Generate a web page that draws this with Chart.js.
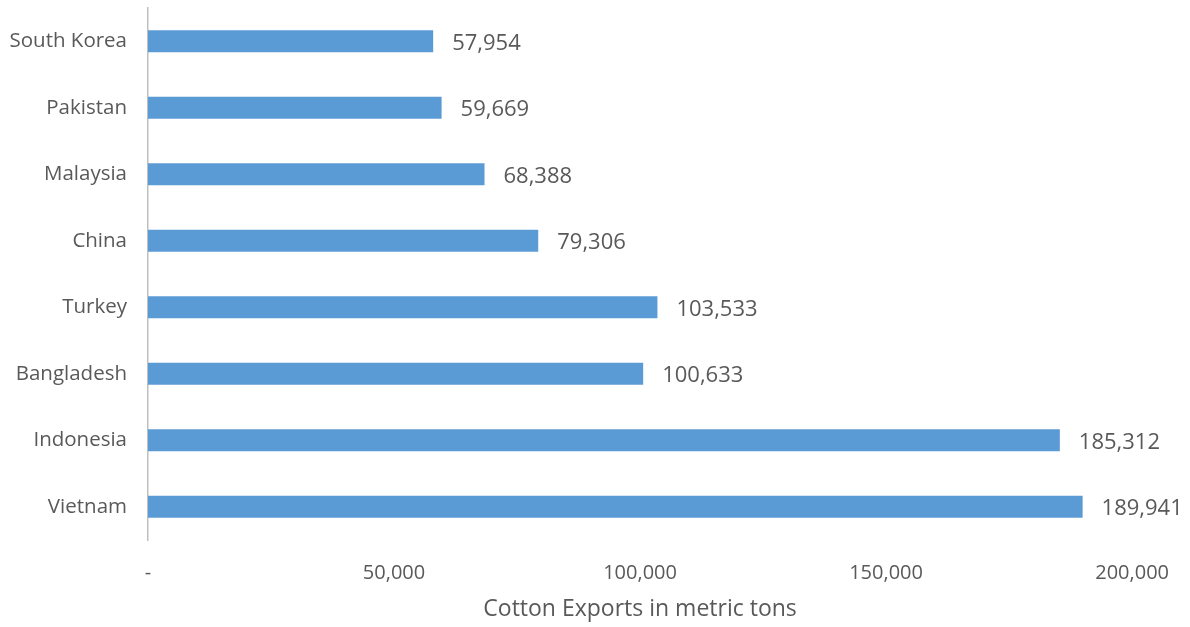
<!DOCTYPE html>
<html>
<head>
<meta charset="utf-8">
<script src="https://cdn.jsdelivr.net/npm/chart.js@4/dist/chart.umd.min.js"></script>
<style>
  body { margin: 0; background: #fff; }
  #wrap { width: 1190px; height: 627px; position: relative; }
</style>
</head>
<body>
<div id="wrap"><canvas id="exportChart"></canvas></div>
<script>
let countries = ["South Korea", "Pakistan", "Malaysia", "China", "Turkey", "Bangladesh", "Indonesia", "Vietnam"];
let exportTons = [57954, 59669, 68388, 79306, 103533, 100633, 185312, 189941];
let xTicks = [0, 50000, 100000, 150000, 200000];

let textColor = "#595959";
let fontFamily = "'Open Sans', Lato, sans-serif";

// labels at the end of each bar
const barValues = {
  id: "barValues",
  afterDatasetsDraw(chart) {
    let ctx = chart.ctx;
    let meta = chart.getDatasetMeta(0);
    ctx.save();
    ctx.font = "22px " + fontFamily;
    ctx.fillStyle = textColor;
    ctx.textAlign = "left";
    ctx.textBaseline = "middle";
    meta.data.forEach(function (bar, i) {
      ctx.fillText(exportTons[i].toLocaleString("en-US"), bar.x + 19, bar.y + 2);
    });
    ctx.restore();
  }
};

new Chart(document.getElementById("exportChart"), {
  type: "bar",
  data: {
    labels: countries,
    datasets: [{
      data: exportTons,
      backgroundColor: "#5B9BD5",
      barPercentage: 0.66,
      categoryPercentage: 0.5
    }]
  },
  options: {
    indexAxis: "y",
    responsive: true,
    maintainAspectRatio: false,
    animation: false,
    layout: { padding: { top: 8, right: 57, bottom: 0, left: 0 } },
    plugins: {
      legend: { display: false },
      tooltip: { enabled: false }
    },
    scales: {
      x: {
        min: 0,
        max: 200000,
        afterBuildTicks(scale) {
          scale.ticks = xTicks.map(function (v) { return { value: v }; });
        },
        afterFit(scale) { scale.height = 87; },
        grid: { display: false, drawTicks: false },
        border: { display: false },
        ticks: {
          padding: 21,
          color: textColor,
          font: { family: fontFamily, size: 20 },
          maxRotation: 0,
          callback: function (v) { return v === 0 ? "-" : v.toLocaleString("en-US"); }
        },
        title: {
          display: true,
          text: "Cotton Exports in metric tons",
          color: textColor,
          font: { family: fontFamily, size: 23 },
          padding: { top: 0, bottom: 4 }
        }
      },
      y: {
        afterFit(scale) {
          scale.width = 148;
          scale.paddingTop = 0;
          scale.paddingBottom = 0;
        },
        grid: { display: false, drawTicks: false },
        border: { display: true, color: "#BFBFBF", width: 1.5 },
        ticks: {
          padding: 21,
          color: textColor,
          font: { family: fontFamily, size: 20.5 }
        }
      }
    }
  },
  plugins: [barValues]
});
</script>
</body>
</html>
